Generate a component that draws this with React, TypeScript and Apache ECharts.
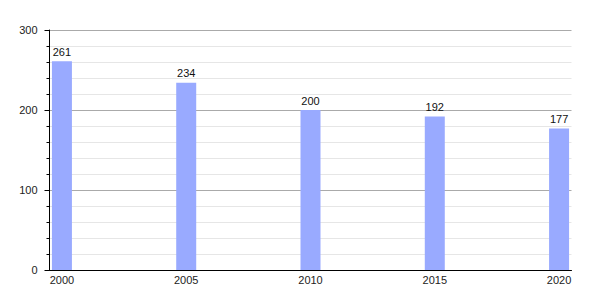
import React, { useEffect, useRef } from "react";
import * as echarts from "echarts";

const years = [2000, 2005, 2010, 2015, 2020];
const values = [261, 234, 200, 192, 177];
const yTicks = [0, 100, 200, 300];

export default function App() {
  const ref = useRef<HTMLDivElement>(null);
  useEffect(() => {
    if (!ref.current) return;
    const chart = echarts.init(ref.current, undefined, { renderer: "svg" });
    const first = years[0];
    const last = years[years.length - 1];
    const categories: string[] = [];
    const data: (number | null)[] = [];
    for (let y = first; y <= last; y++) {
      categories.push(String(y));
      const i = years.indexOf(y);
      data.push(i >= 0 ? values[i] : null);
    }
    const font = "'Liberation Sans', Arial, sans-serif";
    chart.setOption({
      animation: false,
      grid: { left: 49.5, right: 28.5, top: 30, bottom: 30, containLabel: false, outerBoundsMode: "none" },
      xAxis: {
        type: "category",
        data: categories,
        boundaryGap: true,
        axisLine: { show: true, lineStyle: { color: "#000", width: 1 } },
        axisTick: { show: false },
        axisLabel: { interval: 4, margin: 4, fontSize: 11, color: "#222", fontFamily: font },
        splitLine: { show: false },
      },
      yAxis: {
        type: "value",
        min: yTicks[0],
        max: yTicks[yTicks.length - 1],
        interval: 100,
        axisLine: { show: true, lineStyle: { color: "#000", width: 1 } },
        axisTick: { show: true, length: 5, lineStyle: { color: "#000" } },
        minorTick: { show: true, splitNumber: 5, length: 3, lineStyle: { color: "#000" } },
        axisLabel: { margin: 12, fontSize: 11, color: "#222", fontFamily: font },
        splitLine: { show: true, lineStyle: { color: "#aaa", width: 1 } },
        minorSplitLine: { show: true, lineStyle: { color: "#e6e6e6", width: 1 } },
      },
      series: [
        {
          type: "bar",
          data,
          barWidth: 20,
          itemStyle: { color: "#99aaff" },
          label: { show: true, position: "top", distance: 4, fontSize: 11, color: "#111", fontFamily: font },
        },
      ],
    });
    return () => chart.dispose();
  }, []);
  return (
    <div
      ref={ref}
      style={{ position: "fixed", left: 0, top: 0, width: 600, height: 300, background: "#fff" }}
    />
  );
}
